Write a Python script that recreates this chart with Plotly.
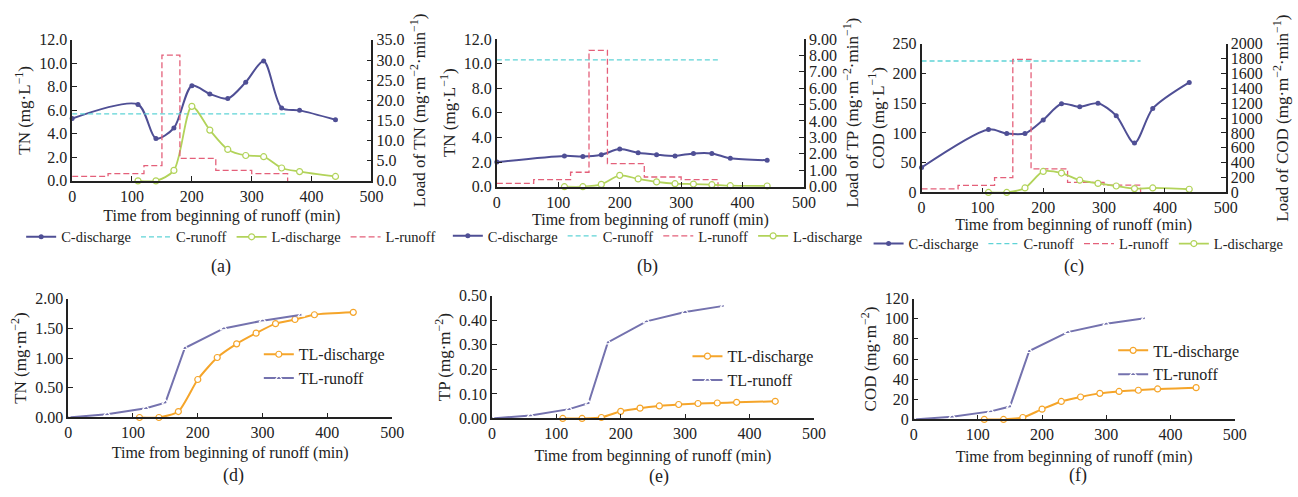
import plotly.graph_objects as go

W, H = 1298, 497

# ---------------- data ----------------
t_conc = [0, 110, 140, 170, 200, 230, 260, 290, 320, 350, 380, 440]
t_load = [110, 140, 170, 200, 230, 260, 290, 320, 350, 380, 440]
t_step = [0, 60, 120, 150, 180, 240, 300, 360]
t_runoff = [0, 360]
t_cum_run = [0, 60, 120, 150, 180, 240, 300, 360]

a_c_dis = [5.3, 6.5, 3.6, 4.5, 8.1, 7.4, 7.0, 8.4, 10.2, 6.2, 6.0, 5.2]
a_c_run = [5.7, 5.7]
a_l_dis = [0, 0, 2.6, 18.5, 12.6, 7.8, 6.3, 6.0, 3.2, 2.3, 1.1]
a_l_run = [1.1, 1.8, 3.8, 31.2, 5.6, 2.6, 1.8, 0]

b_c_dis = [2.0, 2.5, 2.45, 2.6, 3.05, 2.75, 2.6, 2.5, 2.7, 2.7, 2.3, 2.15]
b_c_run = [10.3, 10.3]
b_l_dis = [0, 0, 0.14, 0.69, 0.47, 0.29, 0.18, 0.16, 0.12, 0.06, 0.04]
b_l_run = [0.2, 0.43, 0.88, 8.3, 1.41, 0.59, 0.43, 0]

c_c_dis = [42, 106, 99, 99, 122, 149, 144, 150, 129, 83, 141, 185]
c_c_run = [221, 221]
c_l_dis = [0, 0, 61, 283, 261, 165, 122, 87, 52, 61, 43]
c_l_run = [48, 96, 200, 1790, 317, 135, 100, 0]

d_run = [0, 0.054, 0.157, 0.25, 1.17, 1.50, 1.63, 1.73]
d_dis = [0, 0, 0.10, 0.64, 1.01, 1.24, 1.42, 1.58, 1.65, 1.73, 1.77]
e_run = [0, 0.012, 0.038, 0.062, 0.31, 0.396, 0.434, 0.459]
e_dis = [0, 0, 0.004, 0.029, 0.042, 0.051, 0.057, 0.061, 0.063, 0.066, 0.070]
f_run = [0, 2.6, 8.0, 12.8, 68, 86.8, 95, 100.5]
f_dis = [0, 0, 1.9, 10.2, 17.9, 22.3, 25.9, 27.8, 29.0, 30.3, 31.6]

x_ticks = [0, 100, 200, 300, 400, 500]
x_title = "Time from beginning of runoff (min)"

# ---------------- styles ----------------
FONT = "Liberation Serif, Times New Roman, serif"
C_DIS = "#4f4f95"
C_RUN = "#5fd3d6"
L_DIS = "#b2d35a"
L_RUN = "#e4607a"
TL_DIS = "#f5a52a"
TL_RUN = "#7472ae"

def xd(x0, x1):
    return [x0 / W, x1 / W]

def yd(top, bottom):
    return [1 - bottom / H, 1 - top / H]

fig = go.Figure()

def conc_panel(xa, yl, yr, cdis, crun, ldis, lrun, legend, order):
    traces = {
        "C-discharge": go.Scatter(x=t_conc, y=cdis, xaxis=xa, yaxis=yl, name="C-discharge",
                                  mode="lines+markers", line=dict(color=C_DIS, width=2, shape="spline", smoothing=0.8),
                                  marker=dict(size=5, color=C_DIS), legend=legend, cliponaxis=False),
        "C-runoff": go.Scatter(x=t_runoff, y=crun, xaxis=xa, yaxis=yl, name="C-runoff",
                               mode="lines", line=dict(color=C_RUN, width=1.3, dash="5px,3px"), legend=legend),
        "L-discharge": go.Scatter(x=t_load, y=ldis, xaxis=xa, yaxis=yr, name="L-discharge",
                                  mode="lines+markers", line=dict(color=L_DIS, width=1.8, shape="spline", smoothing=0.8),
                                  marker=dict(size=6, color="white", symbol="circle", line=dict(color=L_DIS, width=1.2)),
                                  legend=legend, cliponaxis=False),
        "L-runoff": go.Scatter(x=t_step, y=lrun, xaxis=xa, yaxis=yr, name="L-runoff",
                               mode="lines", line=dict(color=L_RUN, width=1.3, dash="6px,3px", shape="hv"),
                               legend=legend),
    }
    for n in order:
        fig.add_trace(traces[n])

conc_panel("x", "y", "y2", a_c_dis, a_c_run, a_l_dis, a_l_run, "legend",
           ["C-discharge", "C-runoff", "L-discharge", "L-runoff"])
conc_panel("x2", "y3", "y4", b_c_dis, b_c_run, b_l_dis, b_l_run, "legend2",
           ["C-discharge", "C-runoff", "L-runoff", "L-discharge"])
conc_panel("x3", "y5", "y6", c_c_dis, c_c_run, c_l_dis, c_l_run, "legend3",
           ["C-discharge", "C-runoff", "L-runoff", "L-discharge"])

def cum_panel(xa, ya, run, dis, legend):
    fig.add_trace(go.Scatter(x=t_load, y=dis, xaxis=xa, yaxis=ya, name="TL-discharge", mode="lines+markers",
                             line=dict(color=TL_DIS, width=2, shape="spline", smoothing=0.6),
                             marker=dict(size=6, color="white", line=dict(color=TL_DIS, width=1.2)),
                             legend=legend, cliponaxis=False))
    fig.add_trace(go.Scatter(x=t_cum_run, y=run, xaxis=xa, yaxis=ya, name="TL-runoff", mode="lines+markers",
                             line=dict(color=TL_RUN, width=2),
                             marker=dict(size=6, color="white", symbol="triangle-up-open", line=dict(color=TL_RUN, width=1.2)),
                             legend=legend, cliponaxis=False))

cum_panel("x4", "y7", d_run, d_dis, "legend4")
cum_panel("x5", "y8", e_run, e_dis, "legend5")
cum_panel("x6", "y9", f_run, f_dis, "legend6")

tickfont = dict(family=FONT, size=16, color="#222")
titlefont = dict(family=FONT, size=16, color="#222")
ytitlefont = dict(family=FONT, size=17, color="#222")

def xaxis(dom, anchor, standoff=2):
    return dict(domain=dom, anchor=anchor, range=[0, 500], tickvals=x_ticks, ticks="inside", ticklen=5,
                tickwidth=1.3, tickcolor="#222", showline=True, linecolor="#222", linewidth=1.6,
                showgrid=False, zeroline=False, tickfont=tickfont,
                title=dict(text=x_title, font=titlefont, standoff=standoff))

def yaxis(dom, anchor, rng, dtick, fmt, title, side="left", overlaying=None, standoff=4):
    d = dict(domain=dom, anchor=anchor, range=rng, dtick=dtick, tick0=0, tickformat=fmt, ticks="inside",
             ticklen=5, tickwidth=1.3, tickcolor="#222", showline=True, linecolor="#222", linewidth=1.6,
             showgrid=False, zeroline=False, tickfont=tickfont, side=side,
             title=dict(text=title, font=ytitlefont, standoff=standoff))
    if overlaying:
        d["overlaying"] = overlaying
    return d

ML = "mg·L<sup>−1</sup>"
MM = "mg·m<sup>−2</sup>·min<sup>−1</sup>"
M2 = "mg·m<sup>−2</sup>"

ya_a = yd(33, 179); ya_b = yd(32, 185); ya_c = yd(37, 191)
ya_d = yd(301, 424); ya_e = yd(298, 425); ya_f = yd(301, 426)

fig.update_layout(
    width=W, height=H, margin=dict(l=0, r=0, t=0, b=0),
    paper_bgcolor="white", plot_bgcolor="white",
    font=dict(family=FONT, size=16, color="#222"),
    xaxis=xaxis(xd(69, 372), "y", 6),
    xaxis2=xaxis(xd(499, 810), "y3", 0),
    xaxis3=xaxis(xd(929, 1237), "y5", 0),
    xaxis4=xaxis(xd(65, 393), "y7", 6),
    xaxis5=xaxis(xd(494, 820), "y8", 8),
    xaxis6=xaxis(xd(921, 1246), "y9", 8),
    yaxis=yaxis(ya_a, "x", [0, 12], 2, ".1f", f"TN ({ML})"),
    yaxis2=yaxis(ya_a, "x", [0, 35], 5, ".1f", f"Load of TN ({MM})", side="right", overlaying="y", standoff=10),
    yaxis3=yaxis(ya_b, "x2", [0, 12], 2, ".1f", f"TN ({ML})"),
    yaxis4=yaxis(ya_b, "x2", [0, 9], 1, ".2f", f"Load of TP ({MM})", side="right", overlaying="y3", standoff=10),
    yaxis5=yaxis(ya_c, "x3", [0, 250], 50, "d", f"COD ({ML})"),
    yaxis6=yaxis(ya_c, "x3", [0, 2000], 200, "d", f"Load of COD ({MM})", side="right", overlaying="y5", standoff=14),
    yaxis7=yaxis(ya_d, "x4", [0, 2], 0.5, ".2f", f"TN ({M2})"),
    yaxis8=yaxis(ya_e, "x5", [0, 0.5], 0.1, ".2f", f"TP ({M2})"),
    yaxis9=yaxis(ya_f, "x6", [0, 120], 20, "d", f"COD ({M2})"),
    showlegend=True,
)

def hleg(xc, ypx):
    return dict(orientation="h", x=xc / W, xanchor="center", y=1 - ypx / H, yanchor="middle",
                font=dict(family=FONT, size=14.5, color="#222"), itemwidth=30, tracegroupgap=0,
                bgcolor="rgba(0,0,0,0)", traceorder="normal")

def vleg(xpx, ypx):
    return dict(orientation="v", x=xpx / W, xanchor="left", y=1 - ypx / H, yanchor="top",
                font=dict(family=FONT, size=16, color="#222"), itemwidth=30, tracegroupgap=0,
                bgcolor="rgba(0,0,0,0)", traceorder="normal")

fig.update_layout(
    legend=hleg(230, 237), legend2=hleg(662, 236), legend3=hleg(1088, 244),
    legend4=vleg(258, 341), legend5=vleg(692, 343), legend6=vleg(1123, 337),
)

for txt, xpx, ypx in [("(a)", 220, 268), ("(b)", 652, 268), ("(c)", 1083, 268),
                      ("(d)", 232, 484), ("(e)", 663, 485), ("(f)", 1087, 484)]:
    fig.add_annotation(text=txt, x=xpx / W, y=1 - ypx / H, xref="paper", yref="paper",
                       showarrow=False, xanchor="center", yanchor="middle",
                       font=dict(family=FONT, size=18, color="#222"))

fig.write_html("out.html", config={"displayModeBar": False},
               post_script="document.body.style.margin='0';document.body.style.overflow='hidden';")
